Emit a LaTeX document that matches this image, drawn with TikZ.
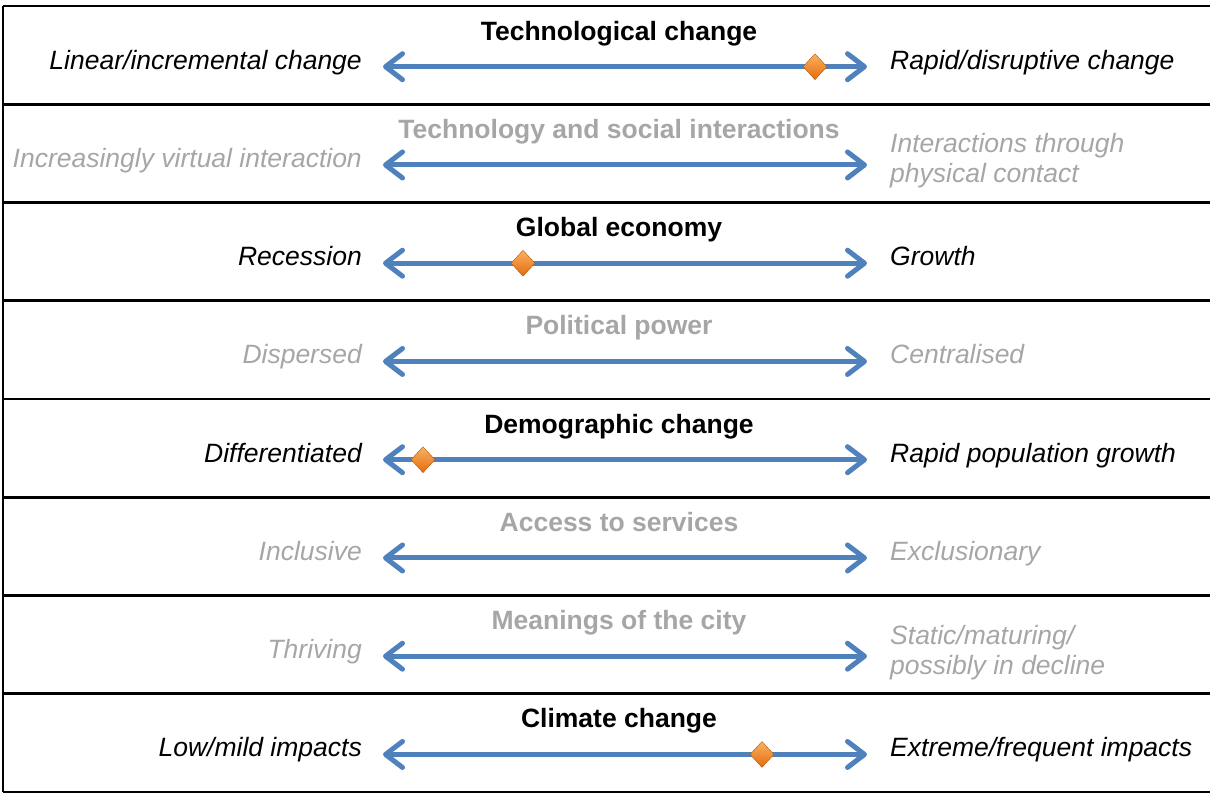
\documentclass[tikz,border=0pt]{standalone}
\usepackage{fontspec}
\setmainfont{Liberation Sans}
\usetikzlibrary{arrows.meta,shapes.geometric}
\definecolor{scaleblue}{RGB}{79,129,189}
\definecolor{fadegrey}{RGB}{166,166,166}
\definecolor{pinlight}{RGB}{250,178,100}
\definecolor{pindark}{RGB}{228,108,10}
\tikzset{
  head/.style={font=\fontsize{26.5}{30}\selectfont\bfseries, anchor=base, inner sep=0pt},
  lhs/.style={font=\fontsize{26.5}{30}\selectfont\itshape, anchor=base east, inner sep=0pt},
  rhs/.style={font=\fontsize{26.5}{30}\selectfont\itshape, anchor=base west, inner sep=0pt},
  rhstwo/.style={font=\fontsize{26.5}{30}\selectfont\itshape, anchor=west, inner sep=0pt, align=left},
  faded/.style={text=fadegrey},
  scalebar/.style={draw=scaleblue, line width=5pt,
    {Straight Barb[length=17pt,width=26pt,round]}-{Straight Barb[length=17pt,width=26pt,round]}},
  pin/.style={diamond, minimum width=24pt, minimum height=26pt, inner sep=0pt,
    top color=pinlight, bottom color=pindark, draw=pindark!80!black, line width=0.4pt},
  rule/.style={line width=2.6pt}
}
\begin{document}
\begin{tikzpicture}[x=1pt,y=-1pt]
\useasboundingbox (0,0) rectangle (1210,793);

% frame
\draw[rule] (3,6) -- (3,792);
\draw[rule] (3,6) -- (1210,6);
\draw[rule] (3,104.25) -- (1210,104.25);
\draw[rule] (3,202.5) -- (1210,202.5);
\draw[rule] (3,300.75) -- (1210,300.75);
\draw[rule] (3,399) -- (1210,399);
\draw[rule] (3,497.25) -- (1210,497.25);
\draw[rule] (3,595.5) -- (1210,595.5);
\draw[rule] (3,693.75) -- (1210,693.75);
\draw[rule] (3,792) -- (1210,792);

% technological change
\node[head] (techT) at (619,40) {Technological change};
\node[lhs] (techL) at (362,69) {Linear/incremental change};
\node[rhs] (techR) at (890,69) {Rapid/disruptive change};
\coordinate (techA) at (383,66.7);
\coordinate (techB) at (867,66.7);
\path[scalebar] (techA) -- (techB);
\node[pin] (techD) at (815,66.7) {};

% technology and social interactions
\node[head,faded] (socT) at (619,138.25) {Technology and social interactions};
\node[lhs,faded] (socL) at (362,167.25) {Increasingly virtual interaction};
\node[rhstwo,faded] (socR) at (890,161) {Interactions through\\physical contact};
\coordinate (socA) at (383,164.95);
\coordinate (socB) at (867,164.95);
\path[scalebar] (socA) -- (socB);

% global economy
\node[head] (econT) at (619,236.5) {Global economy};
\node[lhs] (econL) at (362,265.5) {Recession};
\node[rhs] (econR) at (890,265.5) {Growth};
\coordinate (econA) at (383,263.2);
\coordinate (econB) at (867,263.2);
\path[scalebar] (econA) -- (econB);
\node[pin] (econD) at (523,263.2) {};

% political power
\node[head,faded] (powT) at (619,334.75) {Political power};
\node[lhs,faded] (powL) at (362,363.75) {Dispersed};
\node[rhs,faded] (powR) at (890,363.75) {Centralised};
\coordinate (powA) at (383,361.45);
\coordinate (powB) at (867,361.45);
\path[scalebar] (powA) -- (powB);

% demographic change
\node[head] (demoT) at (619,433) {Demographic change};
\node[lhs] (demoL) at (362,462) {Differentiated};
\node[rhs] (demoR) at (890,462) {Rapid population growth};
\coordinate (demoA) at (383,459.7);
\coordinate (demoB) at (867,459.7);
\path[scalebar] (demoA) -- (demoB);
\node[pin] (demoD) at (423,459.7) {};

% access to services
\node[head,faded] (accT) at (619,531.25) {Access to services};
\node[lhs,faded] (accL) at (362,560.25) {Inclusive};
\node[rhs,faded] (accR) at (890,560.25) {Exclusionary};
\coordinate (accA) at (383,557.95);
\coordinate (accB) at (867,557.95);
\path[scalebar] (accA) -- (accB);

% meanings of the city
\node[head,faded] (cityT) at (619,629.5) {Meanings of the city};
\node[lhs,faded] (cityL) at (362,658.5) {Thriving};
\node[rhstwo,faded] (cityR) at (890,652.3) {Static/maturing/\\possibly in decline};
\coordinate (cityA) at (383,656.2);
\coordinate (cityB) at (867,656.2);
\path[scalebar] (cityA) -- (cityB);

% climate change
\node[head] (climT) at (619,727.75) {Climate change};
\node[lhs] (climL) at (362,756.75) {Low/mild impacts};
\node[rhs] (climR) at (890,756.75) {Extreme/frequent impacts};
\coordinate (climA) at (383,754.45);
\coordinate (climB) at (867,754.45);
\path[scalebar] (climA) -- (climB);
\node[pin] (climD) at (762,754.45) {};
\end{tikzpicture}
\end{document}
